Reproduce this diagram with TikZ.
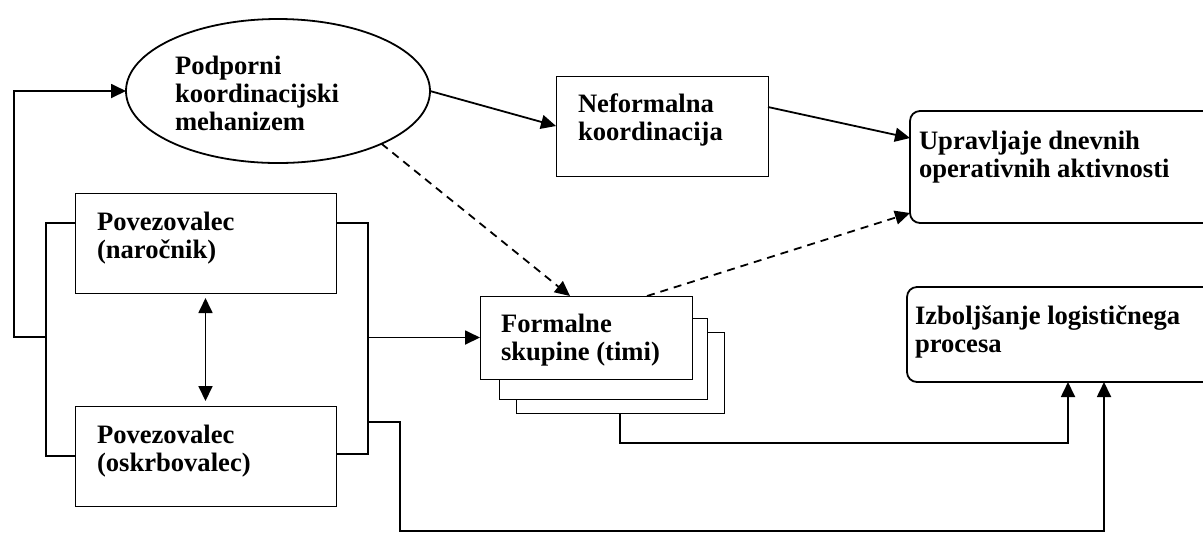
\documentclass[tikz,border=0pt]{standalone}
\usepackage{fontspec}
\setmainfont{Liberation Serif}
\usetikzlibrary{shapes.geometric,arrows.meta,positioning}

\begin{document}
\begin{tikzpicture}[x=0.5pt,y=-0.5pt,
        every node/.style={inner sep=0pt,outer sep=0pt},
        box/.style={draw,line width=0.5pt,fill=white,rectangle},
        rbox/.style={draw,line width=0.9pt,rounded corners=5pt,rectangle},
        txt/.style={anchor=base west,align=left,font=\fontsize{13.3}{13.8}\selectfont\bfseries},
        conn/.style={line width=0.9pt},
        arr/.style={conn,-{Triangle[length=7.5pt,width=7pt]}},
        dashline/.style={dash pattern=on 4pt off 3pt}]

    \clip (0,0) rectangle (1203,532);

    % Mechanism and informal coordination
    \node[ellipse,draw,line width=0.9pt,minimum width=152pt,minimum height=72pt] (meh) at (278,91) {};
    \node[txt] (meh-t) at (175,130) {Podporni\\koordinacijski\\mehanizem};

    \node[box,minimum width=106pt,minimum height=50pt] (nef) at (662,126) {};
    \node[txt] (nef-t) at (578,140) {Neformalna\\koordinacija};

    % Boxes on the right (cut by the page edge)
    \node[rbox,minimum width=152.5pt,minimum height=56pt] (upr) at (1062.5,167) {};
    \node[txt] (upr-t) at (919,177) {Upravljaje dnevnih\\operativnih aktivnosti};

    \node[rbox,minimum width=154pt,minimum height=47.5pt] (izb) at (1061,334.5) {};
    \node[txt] (izb-t) at (915,352) {Izboljšanje logističnega\\procesa};

    % Liaisons
    \node[box,minimum width=130.5pt,minimum height=50pt] (nar) at (205.5,243) {};
    \node[txt] (nar-t) at (97,258) {Povezovalec\\(naročnik)};

    \node[box,minimum width=130.5pt,minimum height=50pt] (osk) at (205.5,456) {};
    \node[txt] (osk-t) at (97,471) {Povezovalec\\(oskrbovalec)};

    % Stack of formal groups, back to front
    \node[box,minimum width=104pt,minimum height=40.5pt] (form3) at (620,372.5) {};
    \node[box,minimum width=104pt,minimum height=40.5pt] (form2) at (603,358.5) {};
    \node[box,minimum width=106pt,minimum height=41.5pt] (form1) at (586,337.5) {};
    \node[txt] (form-t) at (501,360) {Formalne\\skupine (timi)};

    % Connectors
    \coordinate (lbar) at (46,337);
    \coordinate (rbar) at (368,337.5);
    \draw[conn] ([yshift=10pt]nar.west) -| (46,456) -- (osk.west);
    \draw[arr] (lbar) -| (14,91) -- (meh.west);
    \draw[conn] ([yshift=10pt]nar.east) -| (368,454) -- ([yshift=1pt]osk.east);
    \draw[arr] (rbar) -- (form1.west);
    \draw[conn,{Triangle[length=7.5pt,width=7pt]}-{Triangle[length=7.5pt,width=7pt]},shorten <=2.5pt,shorten >=2.5pt] (nar.south) -- (osk.north);
    \draw[arr] (368,422) -| (400,531) -| ([xshift=21.5pt]izb.south);
    \draw[arr] (form3.south) -- (620,443) -| ([xshift=3.5pt]izb.south);

    \draw[arr] (meh.east) -- (nef.west);
    \draw[arr] ([yshift=9.5pt]nef.east) -- ([yshift=14.5pt]upr.west);
    \draw[arr,dashline] (meh.-27) -- ([xshift=-8pt]form1.north);
    \draw[arr,dashline] ([xshift=30.5pt]form1.north) -- ([yshift=5pt]upr.south west);

\end{tikzpicture}
\end{document}
